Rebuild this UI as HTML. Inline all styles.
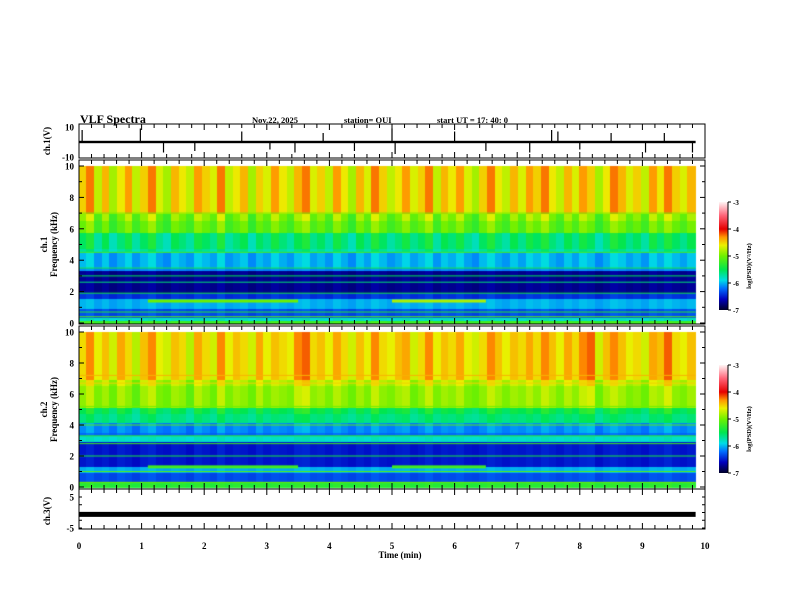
<!DOCTYPE html>
<html><head><meta charset="utf-8">
<style>
html,body{margin:0;padding:0;background:#fff;}
#wrap{position:relative;width:792px;height:612px;overflow:hidden;font-family:"Liberation Serif",serif;}
canvas,svg{position:absolute;left:0;top:0;}
</style></head>
<body>
<div id="wrap">
<canvas id="cv" width="792" height="612"></canvas>
<svg id="sv" width="792" height="612"></svg>
</div>
<script>
// ---- data ----
const timeEnd = 9.85; // minutes of data
const bursts1 = [0.6,0.9,0.3,0.7,0.2,0.5,0.8,0.3,0.6,0.9,0.4,0.2,0.7,0.5,0.3,0.8,0.6,0.4,0.9,0.3,
  0.5,0.7,0.2,0.6,0.4,0.8,0.5,0.3,0.7,0.9,0.4,0.6,0.3,0.8,0.5,0.2,0.7,0.4,0.9,0.6,
  0.3,0.5,0.8,0.4,0.6,0.9,0.3,0.7,0.5,0.8,0.4,0.2,0.6,0.9,0.5,0.3,0.7,0.4,0.8,0.6,
  0.9,0.5,0.3,0.7,0.4,0.8,0.6,0.2,0.5,0.9,0.7,0.4,0.6,0.3,0.8,0.5,0.9,0.6,0.4,0.7];
const bursts2 = [0.5,0.8,0.4,0.6,0.3,0.7,0.5,0.2,0.6,0.8,0.4,0.3,0.6,0.5,0.2,0.7,0.5,0.3,0.8,0.4,
  0.6,0.5,0.3,0.7,0.4,0.6,0.5,0.4,0.8,0.9,0.5,0.6,0.4,0.7,0.5,0.3,0.6,0.4,0.8,0.5,
  0.4,0.6,0.7,0.3,0.5,0.8,0.4,0.6,0.5,0.7,0.4,0.3,0.5,0.8,0.6,0.4,0.6,0.5,0.7,0.5,
  0.8,0.6,0.4,0.7,0.5,0.8,0.9,0.3,0.6,0.8,0.6,0.4,0.5,0.3,0.7,0.6,0.9,0.5,0.4,0.6];
// frequency band edges (kHz) and log PSD level
const freqEdges1 = [0,0.3,0.5,1.0,1.6,2.0,3.5,4.7,5.8,7.0,10];
const levels1    = [-5.3,-5.9,-6.4,-6.1,-6.5,-6.8,-6.2,-5.9,-5.4,-5.0];
const freqEdges2 = [0,0.5,1.0,1.5,3.0,3.5,4.3,5.3,7.0,10];
const levels2    = [-5.4,-6.4,-6.1,-6.6,-5.9,-6.3,-5.8,-5.2,-4.95];
// narrowband lines [freq kHz, level]
const lines1 = [[0.4,-5.1],[0.7,-5.3],[1.9,-5.4],[2.6,-5.6],[3.0,-5.5],[3.5,-5.4],[4.5,-5.2],[7.0,-5.0]];
const lines2 = [[0.3,-5.0],[1.0,-5.1],[2.0,-5.4],[2.8,-5.2],[3.3,-5.3],[4.0,-5.1],[5.2,-5.0],[6.7,-4.5],[7.2,-4.4]];
// transmitter-like events [t0 min, t1 min, freq kHz, level]
const events1 = [[1.1,3.5,1.4,-5.0],[5.0,6.5,1.4,-4.8]];
const events2 = [[1.1,3.5,1.3,-5.2],[5.0,6.5,1.3,-5.2]];
// ch1 waveform spikes [time min, volts]
const spikes1 = [[0.05,8],[0.98,9],[1.35,-7],[1.85,-6],[2.6,7],[3.05,-5],[3.45,-7],[3.9,6],[4.4,-6],[5.0,9],[5.05,-8],[6.0,7],[6.5,-6],[7.2,-7],[7.55,8],[7.65,7],[8.0,-5],[8.5,6],[9.05,-7],[9.35,6],[9.8,-7]];
const ch1Noise = 0.8;
const ch3Value = -0.6;
const timeTicks = [0,1,2,3,4,5,6,7,8,9,10];
const freqTicks = [0,2,4,6,8,10];
const cbTicks = [-3,-4,-5,-6,-7];

// ---- layout ----
const X0=79, X1=705;
const xs = t => X0 + (X1-X0)*t/10;
const S1={top:166,bot:323}, S2={top:332,bot:487};
const P1={v10:127,vm10:157}, P3={v5:497,vm5:528};
const ys = (p,f)=> p.bot - (p.bot-p.top)*f/10;

const stops=[[-7,[0,0,40]],[-6.6,[0,0,190]],[-6.2,[0,110,255]],[-5.9,[0,220,230]],[-5.5,[0,230,80]],
 [-5.0,[110,240,0]],[-4.6,[235,240,0]],[-4.3,[255,150,0]],[-4.0,[230,0,0]],[-3.5,[255,100,120]],[-3,[255,245,245]]];
function cmap(v){
  if(v<=stops[0][0]) return stops[0][1];
  for(let i=1;i<stops.length;i++){ if(v<=stops[i][0]){const a=stops[i-1],b=stops[i];const r=(v-a[0])/(b[0]-a[0]);
    return a[1].map((c,k)=>Math.round(c+(b[1][k]-c)*r));}}
  return stops[stops.length-1][1];
}
function levelAt(edges,levels,f){for(let i=0;i<levels.length;i++) if(f<edges[i+1]) return levels[i]; return levels[levels.length-1];}
function gain(f){return f>6.5?0.85:(f>4.7?0.6:(f>3.5?0.35:0.15));}

const cv=document.getElementById('cv'), ctx=cv.getContext('2d');
function drawSpec(p,bursts,edges,levels,lines,events){
  const n=bursts.length, rows=50;
  for(let i=0;i<n;i++){
    const t0=timeEnd*i/n, t1=timeEnd*(i+1)/n;
    const xa=xs(t0), xb=xs(t1);
    for(let r=0;r<rows;r++){
      const f=10*(r+0.5)/rows;
      let v=levelAt(edges,levels,f)+bursts[i]*gain(f);
      const c=cmap(v);
      ctx.fillStyle=`rgb(${c[0]},${c[1]},${c[2]})`;
      const ya=ys(p,10*(r+1)/rows), yb=ys(p,10*r/rows);
      ctx.fillRect(Math.floor(xa),Math.floor(ya),Math.ceil(xb-xa)+1,Math.ceil(yb-ya)+1);
    }
  }
  lines.forEach(l=>{const c=cmap(l[1]);ctx.fillStyle=`rgb(${c[0]},${c[1]},${c[2]})`;
    ctx.fillRect(xs(0),ys(p,l[0])-0.5,xs(timeEnd)-xs(0),1);});
  events.forEach(e=>{const c=cmap(e[3]);ctx.fillStyle=`rgb(${c[0]},${c[1]},${c[2]})`;
    ctx.fillRect(xs(e[0]),ys(p,e[2])-1.5,xs(e[1])-xs(e[0]),3);});
}
drawSpec(S1,bursts1,freqEdges1,levels1,lines1,events1);
drawSpec(S2,bursts2,freqEdges2,levels2,lines2,events2);

// ---- SVG overlay ----
const NS='http://www.w3.org/2000/svg', sv=document.getElementById('sv');
function el(tag,attrs,parent){const e=document.createElementNS(NS,tag);for(const k in attrs)e.setAttribute(k,attrs[k]);(parent||sv).appendChild(e);return e;}
function txt(x,y,s,size,anchor,extra){const e=el('text',Object.assign({x:x,y:y,'font-size':size,'text-anchor':anchor||'start','font-family':'Liberation Serif, serif','font-weight':'bold'},extra||{}));e.textContent=s;return e;}

// header
let h;
h=txt(80,123,'VLF Spectra',12);  
h=txt(252,123,'Nov.22, 2025',8.5);  
h=txt(344,123,'station= OUI',8.5);  
h=txt(437,123,'start  UT =    17: 40: 0',8.5);  

// ch1 waveform
const v1 = v=> (P1.v10+P1.vm10)/2 - (P1.vm10-P1.v10)/20*v;
let wf=el('rect',{x:xs(0),y:v1(ch1Noise),width:xs(timeEnd)-xs(0),height:v1(-ch1Noise)-v1(ch1Noise),fill:'#000'});
 
spikes1.forEach(s=>{const l=el('line',{x1:xs(s[0]),x2:xs(s[0]),y1:v1(0),y2:v1(s[1]),stroke:'#000','stroke-width':1.2});
   });
// ch3
const v3 = v=> (P3.v5+P3.vm5)/2 - (P3.vm5-P3.v5)/10*v;
let c3=el('rect',{x:xs(0),y:v3(ch3Value)-2.5,width:xs(timeEnd)-xs(0),height:5,fill:'#000'});
 

// frames
const frames=[[124,158,'ch1-frame'],[160,324,'spec1-frame'],[326,489,'spec2-frame'],[489,529,'ch3-frame']];
frames.forEach(f=>{const r=el('rect',{x:X0,y:f[0],width:X1-X0,height:f[1]-f[0],fill:'none',stroke:'#000','stroke-width':1});
   
  for(let t=0;t<=10.001;t+=0.2){const major=Math.abs(t-Math.round(t))<0.01;const len=major?6:4;
    el('line',{x1:xs(t),x2:xs(t),y1:f[0],y2:f[0]+len,stroke:'#000','stroke-width':1});
    el('line',{x1:xs(t),x2:xs(t),y1:f[1],y2:f[1]-len,stroke:'#000','stroke-width':1});}
});
// frequency axes
[[S1,'ch.1','spec1'],[S2,'ch.2','spec2']].forEach(a=>{const p=a[0];
  freqTicks.forEach(f=>{const y=ys(p,f);
    el('line',{x1:X0,x2:X0+5,y1:y,y2:y,stroke:'#000'});el('line',{x1:X1,x2:X1-5,y1:y,y2:y,stroke:'#000'});
    const t=txt(74,y+3.5,String(f),9,'end');  });
  for(let f=1;f<10;f+=2){const y=ys(p,f);el('line',{x1:X0,x2:X0+3,y1:y,y2:y,stroke:'#000'});el('line',{x1:X1,x2:X1-3,y1:y,y2:y,stroke:'#000'});}
  const cy=(p.top+p.bot)/2;
  let t=txt(47,cy,a[1],9,'middle',{transform:`rotate(-90 47 ${cy})`});  
  t=txt(57,cy,'Frequency  (kHz)',9,'middle',{transform:`rotate(-90 57 ${cy})`});  
});
// ch1 / ch3 y ticks
[['10',P1.v10],['-10',P1.vm10]].forEach(k=>{const t=txt(74,k[1]+3.5,k[0],9,'end');  });
[['5',P3.v5],['-5',P3.vm5]].forEach(k=>{const t=txt(74,k[1]+3.5,k[0],9,'end');  });
for(let v=-5;v<=5;v+=2.5){el('line',{x1:X0,x2:X0+3,y1:v3(v),y2:v3(v),stroke:'#000'});el('line',{x1:X1,x2:X1-3,y1:v3(v),y2:v3(v),stroke:'#000'});}
let lt=txt(50,141,'ch.1(V)',9,'middle',{transform:'rotate(-90 50 141)'});  
lt=txt(50,511,'ch.3(V)',9,'middle',{transform:'rotate(-90 50 511)'});  
// x ticks
timeTicks.forEach(t=>{const e=txt(xs(t),549,String(t),9,'middle');  });
lt=txt(400,558,'Time  (min)',9,'middle');  

// colorbars
const defs=el('defs',{});
const grad=el('linearGradient',{id:'cbg',x1:0,y1:1,x2:0,y2:0},defs);
stops.forEach(s=>el('stop',{offset:((s[0]+7)/4).toFixed(3),'stop-color':`rgb(${s[1].join(',')})`},grad));
[[202,310,'colorbar-ch1'],[365,473,'colorbar-ch2']].forEach(c=>{
  const r=el('rect',{x:719,y:c[0],width:9,height:c[1]-c[0],fill:'url(#cbg)'});
   
  el('line',{x1:728,x2:728,y1:c[0],y2:c[1],stroke:'#000'});
  cbTicks.forEach(v=>{const y=c[1]-(c[1]-c[0])*(v+7)/4;el('line',{x1:728,x2:731,y1:y,y2:y,stroke:'#000'});
    const t=txt(733,y+3,String(v),7);  });
  const cy=(c[0]+c[1])/2+10;
  const t=txt(751,cy,'log(PSD)(V²/Hz)',6.5,'middle',{transform:`rotate(-90 751 ${cy})`});
   
});
</script>
</body></html>
